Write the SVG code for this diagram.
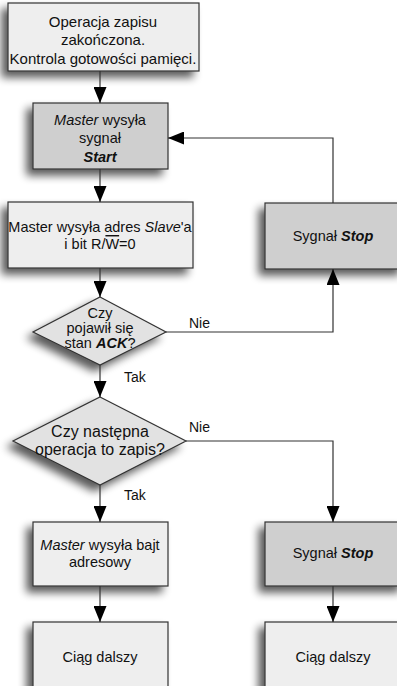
<svg xmlns="http://www.w3.org/2000/svg" width="397" height="686" viewBox="0 0 397 686">
<defs>
<filter id="sh" x="-30%" y="-30%" width="160%" height="170%">
<feGaussianBlur in="SourceAlpha" stdDeviation="4" result="b"/>
<feOffset in="b" dx="-6" dy="6" result="o"/>
<feComponentTransfer in="o" result="s"><feFuncA type="linear" slope="0.65"/></feComponentTransfer>
<feMerge><feMergeNode in="s"/><feMergeNode in="SourceGraphic"/></feMerge>
</filter>
<marker id="ah" markerUnits="userSpaceOnUse" markerWidth="17" markerHeight="13" refX="16" refY="6.5" orient="auto">
<path d="M0,0 L16,6.5 L0,13 z" fill="#000"/>
</marker>
<style>
.light{fill:#eeeeee;stroke:#333;stroke-width:1.2}
.dark{fill:#cfcfcf;stroke:#333;stroke-width:1.2}
.dia{fill:#e2e2e2;stroke:#333;stroke-width:1.2}
.sh{filter:url(#sh)}
text{font-family:"Liberation Sans",Arial,Helvetica,sans-serif;fill:#111;text-anchor:middle}
.t{font-size:14.5px}
.t1{font-size:15px}
.d{font-size:14.5px}
.d2{font-size:16px}
.l{font-size:14px;text-anchor:start}
.i{font-style:italic}
.bi{font-style:italic;font-weight:bold}
.c{fill:none;stroke:#333;stroke-width:1.2;marker-end:url(#ah)}
</style>
</defs>

<g id="n1"><rect class="light sh" x="8" y="3" width="191" height="68"/>
<text class="t1" x="103" y="27">Operacja zapisu</text>
<text class="t1" x="103" y="45">zakończona.</text>
<text class="t1" x="103" y="64">Kontrola gotowości pamięci.</text></g>

<g id="n2"><rect class="dark sh" x="33" y="103" width="135" height="66"/>
<text class="t" x="100" y="125"><tspan class="i">Master</tspan> wysyła</text>
<text class="t" x="100" y="143">sygnał</text>
<text class="t bi" x="100" y="162">Start</text></g>

<g id="n3"><rect class="light sh" x="8" y="202" width="185" height="66"/>
<text class="t" x="100" y="232">Master wysyła adres <tspan class="i">Slave</tspan>'a</text>
<text class="t" x="100" y="249">i bit R/<tspan style="text-decoration:overline">W</tspan>=0</text></g>

<g id="n4"><rect class="dark sh" x="265" y="203" width="140" height="66"/>
<text class="t" x="333" y="241">Sygnał <tspan class="bi">Stop</tspan></text></g>

<g id="d1"><polygon class="dia sh" points="100,297 166,332 100,365 33,332"/>
<text class="d" x="100" y="318">Czy</text>
<text class="d" x="100" y="333">pojawił się</text>
<text class="d" x="100" y="348">stan <tspan class="bi">ACK</tspan>?</text></g>

<g id="d2"><polygon class="dia sh" points="100,397 186,441 100,485 13,441"/>
<text class="d2" x="100" y="437">Czy następna</text>
<text class="d2" x="100" y="455">operacja to zapis?</text></g>

<g id="n5"><rect class="light sh" x="33" y="522" width="135" height="64"/>
<text class="t" x="100" y="550"><tspan class="i">Master</tspan> wysyła bajt</text>
<text class="t" x="100" y="567">adresowy</text></g>

<g id="n6"><rect class="dark sh" x="265" y="522" width="140" height="64"/>
<text class="t" x="333" y="558">Sygnał <tspan class="bi">Stop</tspan></text></g>

<g id="n7"><rect class="light sh" x="33" y="622" width="135" height="80"/>
<text class="t" x="100" y="662">Ciąg dalszy</text></g>

<g id="n8"><rect class="light sh" x="265" y="622" width="140" height="80"/>
<text class="t" x="333" y="662">Ciąg dalszy</text></g>

<g id="connectors">
<path class="c" d="M100,71 V103"/>
<path class="c" d="M100,169 V202"/>
<path class="c" d="M100,268 V297"/>
<path class="c" d="M100,365 V397"/>
<path class="c" d="M100,485 V522"/>
<path class="c" d="M100,586 V622"/>
<path class="c" d="M166,332 H333 V269"/>
<path class="c" d="M333,203 V138 H168"/>
<path class="c" d="M186,441 H333 V522"/>
<path class="c" d="M333,586 V622"/>
<text class="l" x="189" y="328">Nie</text>
<text class="l" x="189" y="432">Nie</text>
<text class="l" x="124" y="382">Tak</text>
<text class="l" x="124" y="500">Tak</text>
</g>
</svg>
